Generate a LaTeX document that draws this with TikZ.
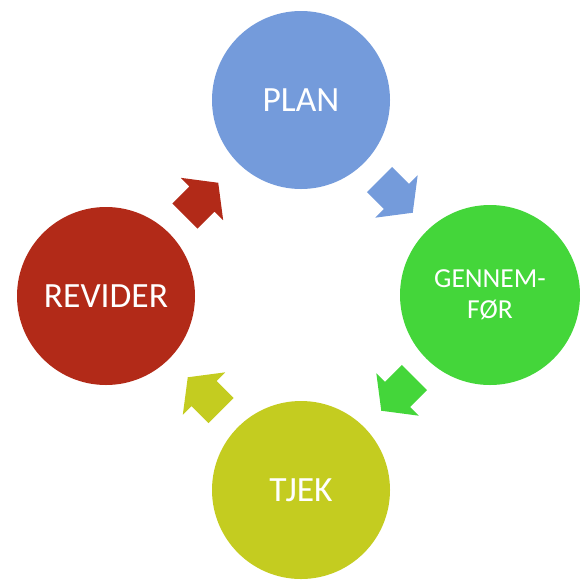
\documentclass[tikz,border=0pt]{standalone}
\usepackage{fontspec}
\setmainfont{Carlito}
\definecolor{cblue}{RGB}{116,155,219}
\definecolor{cgreen}{RGB}{68,214,58}
\definecolor{cyellow}{RGB}{196,204,32}
\definecolor{cred}{RGB}{178,42,24}
\tikzset{
  phase/.style={circle, inner sep=0pt, minimum size=178pt, text=white, font=\fontsize{35.5}{42}\selectfont},
  blockarrow/.pic={\path[pic actions] (0,-17.7) -- (24,-17.7) -- (24,-30) -- (47,0) -- (24,30) -- (24,17.7) -- (0,17.7) -- cycle;}
}
\begin{document}
\begin{tikzpicture}[x=1pt,y=-1pt]
\useasboundingbox (0,0) rectangle (580,579);
\clip (0,0) rectangle (580,579);
\node[phase, fill=cblue] (plan) at (301,100) {PLAN};
\node[phase, fill=cgreen, minimum size=180pt, align=center, font=\fontsize{27.5}{31}\selectfont] (gennemfor) at (490,295) {GENNEM-\\FØR};
\node[phase, fill=cyellow] (tjek) at (301,490) {TJEK};
\node[phase, fill=cred] (revider) at (106,296) {REVIDER};
\pic[rotate=-45, fill=cblue] (a1) at (379.5,179.5) {blockarrow};
\pic[rotate=-135, fill=cgreen] (a2) at (414.5,377.5) {blockarrow};
\pic[rotate=135, fill=cyellow] (a3) at (221,410.5) {blockarrow};
\pic[rotate=45, fill=cred] (a4) at (185,216) {blockarrow};
\end{tikzpicture}
\end{document}
